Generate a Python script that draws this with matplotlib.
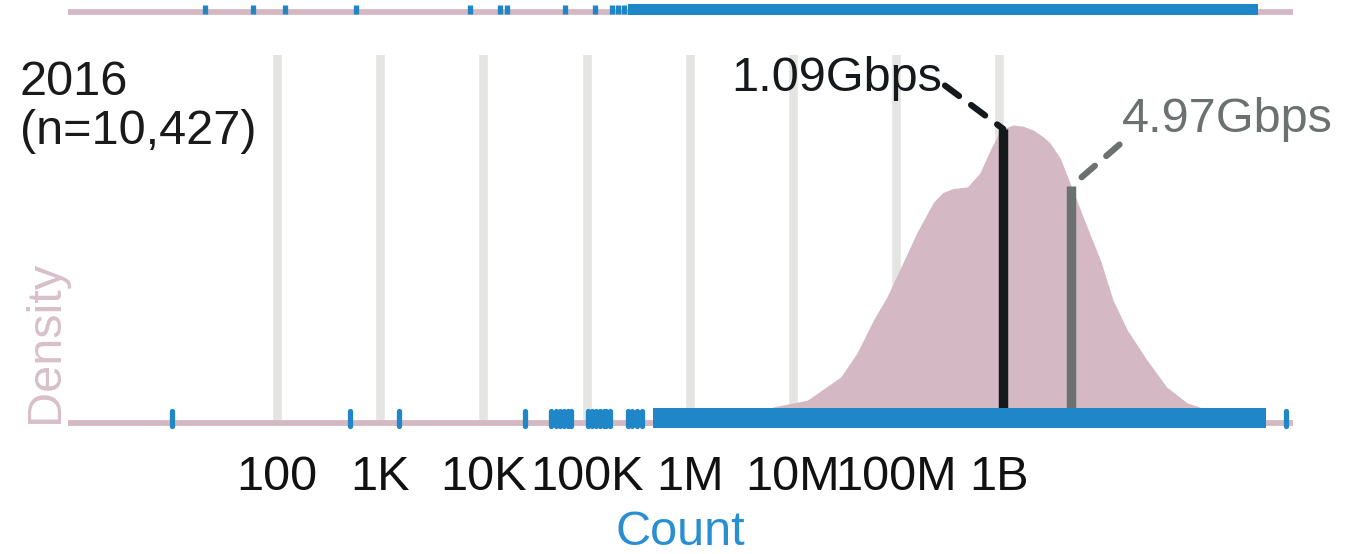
import numpy as np
import matplotlib
matplotlib.use("Agg")
import matplotlib.pyplot as plt
from matplotlib.ticker import NullLocator

plt.rcParams['font.family'] = ['Liberation Sans', 'DejaVu Sans']

# KDE of log10(count) for 2016, read as (log10 count, density)
kde_log = [5.9, 6.48, 6.81, 7.14, 7.46, 7.62, 7.78, 7.91, 8.04, 8.20, 8.36, 8.45, 8.55,
           8.69, 8.81, 8.91, 9.01, 9.13, 9.23, 9.33, 9.42, 9.49, 9.59, 9.71, 9.85, 9.98,
           10.10, 10.24, 10.43, 10.62, 10.82, 10.97, 11.19, 11.43, 11.8]
kde_dens = [0.0, 0.002, 0.028, 0.040, 0.080, 0.122, 0.180, 0.220, 0.270, 0.332, 0.385, 0.402, 0.409,
            0.412, 0.436, 0.476, 0.511, 0.520, 0.518, 0.511, 0.500, 0.489, 0.462, 0.407, 0.342, 0.284,
            0.215, 0.162, 0.110, 0.063, 0.035, 0.026, 0.009, 0.002, 0.0]

# individual observations (log10 count) and ranges where they pile up
rug_2016 = [0.98, 2.71, 3.18, 4.40, 4.66, 4.70, 4.74, 4.78, 4.82, 4.85,
            5.01, 5.05, 5.09, 5.13, 5.17, 5.19, 5.23, 5.40, 5.44, 5.49, 5.54, 11.78]
rug_2016_dense = [(5.64, 11.58)]

# bottom of the 2015 panel above
rug_2015 = [1.30, 1.77, 2.08, 2.77, 3.87, 4.16, 4.23, 4.79, 5.08, 5.25, 5.30, 5.36]
rug_2015_dense = [(5.40, 11.51)]

median_bps = 1.09e9
mean_bps = 4.97e9
median_label = '1.09Gbps'
mean_label = '4.97Gbps'

tick_vals = [1e2, 1e3, 1e4, 1e5, 1e6, 1e7, 1e8, 1e9]
tick_labels = ['100', '1K', '10K', '100K', '1M', '10M', '100M', '1B']

year_label = '2016\n(n=10,427)'

PINK = '#d4b9c4'
BLUE = '#1f86c8'
GRID = '#e4e5e3'
DARK = '#16191c'
GREY = '#6b7070'

W, H = 1370, 554
fig = plt.figure(figsize=(W / 100, H / 100), dpi=100)
xlim = (10 ** -0.025, 10 ** 11.845)


def px_axes(top, bottom):
    return [68 / W, (H - bottom) / H, 1225 / W, (bottom - top) / H]


# --- strip left over from the 2015 panel ---
ax0 = fig.add_axes(px_axes(0, 20))
ax0.set_xscale('log')
ax0.set_xlim(xlim)
ax0.set_ylim(0, 1)
ax0.axis('off')
ax0.axhline(0.4, color=PINK, lw=4.2, zorder=1, solid_capstyle='butt')
ax0.vlines(10 ** np.array(rug_2015), 0.3, 0.75, color=BLUE, lw=3.8, zorder=2)
for a, b in rug_2015_dense:
    ax0.axvspan(10 ** a, 10 ** b, 0.25, 0.8, color=BLUE, lw=0, zorder=2)

# --- 2016 panel ---
ax = fig.add_axes(px_axes(55, 423))
ax.set_xscale('log')
ax.set_xlim(xlim)
ax.set_ylim(0, 0.52 * 368 / 298)
for s in ax.spines.values():
    s.set_visible(False)

xs = 10 ** np.array(kde_log)
ax.fill_between(xs, 0, kde_dens, color=PINK, lw=0, zorder=1)
ax.axhline(0, color=PINK, lw=4.2, zorder=1.5, clip_on=False, solid_capstyle='butt')

ax.xaxis.set_minor_locator(NullLocator())
ax.set_xticks(tick_vals)
ax.set_xticklabels(tick_labels, fontsize=35, color='#111111')
ax.tick_params(axis='x', length=0, pad=23)
ax.set_yticks([])
ax.grid(axis='x', color=GRID, lw=6.2, zorder=0)
ax.set_axisbelow(True)

ax.set_xlabel('Count', fontsize=35, color='#2a8fd0', labelpad=7)
ax.set_ylabel('Density', fontsize=35, color='#d8c0cb', loc='bottom')
ax.yaxis.set_label_coords(0.0, 0.0)

# median / mean markers with dashed leaders
for val, lab, col, ofs, rel in [(median_bps, median_label, DARK, (-61, 50), (1, 0.4)),
                               (mean_bps, mean_label, GREY, (51, 44), (0, 0.0))]:
    top = np.interp(np.log10(val), kde_log, kde_dens)
    ax.vlines(val, 0, top, color=col, lw=6.8, zorder=3)
    ax.annotate(lab, xy=(val, top), xytext=ofs, textcoords='offset pixels',
                ha='right' if ofs[0] < 0 else 'left', va='bottom' if rel[1] == 0 else 'center',
                fontsize=35, color=col,
                arrowprops=dict(arrowstyle='-', color=col, lw=4.5, linestyle=(0, (2.8, 2.4)),
                                shrinkA=0, shrinkB=0, relpos=rel))

# rug of observations
tr = ax.get_xaxis_transform()
ax.vlines(10 ** np.array(rug_2016), -2.5 / 368, 12.5 / 368, transform=tr,
          color=BLUE, lw=3.8, capstyle='round', clip_on=False, zorder=4)
for a, b in rug_2016_dense:
    ax.axvspan(10 ** a, 10 ** b, -5 / 368, 15 / 368, color=BLUE, lw=0, clip_on=False, zorder=4)

fig.text(20 / W, (H - 60) / H, year_label, fontsize=35, color='#1a1a1a',
         va='top', ha='left', linespacing=1.1)

fig.savefig('out.png', dpi=100)
